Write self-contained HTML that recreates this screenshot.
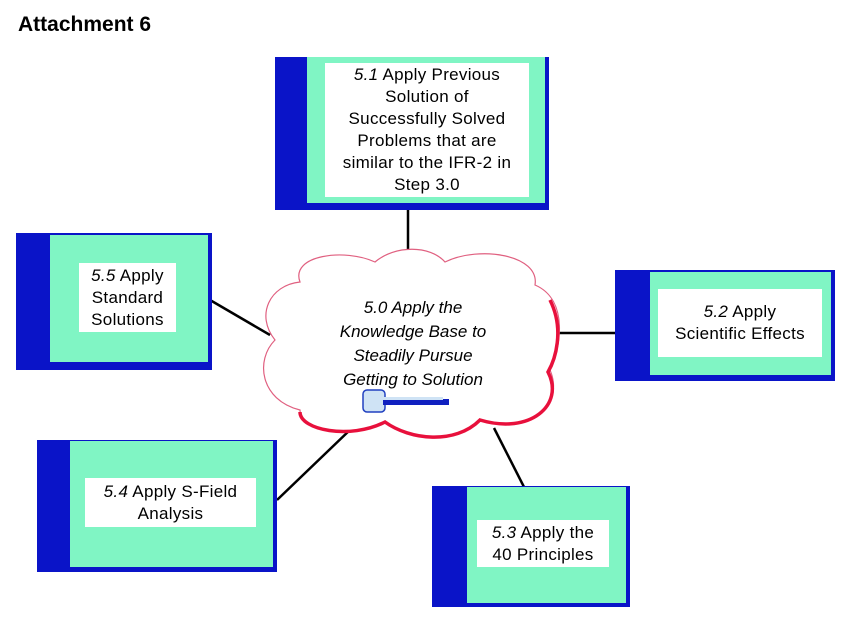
<!DOCTYPE html>
<html><head><meta charset="utf-8"><style>
body{margin:0;width:850px;height:623px;background:#fff;position:relative;overflow:hidden;font-family:"Liberation Sans",Arial,sans-serif}
.a{position:absolute}
.b{background:#0a14c8}
.g{background:#80f5c4}
.w{background:#fff;display:flex;align-items:center;justify-content:center;text-align:center;font-size:17px;line-height:22px;color:#000;letter-spacing:0.3px}
i{font-style:italic}
</style></head><body>
<div class="a" style="left:18px;top:13px;font-weight:bold;font-size:21px">Attachment 6</div>
<svg class="a" style="left:0;top:0" width="850" height="623">
<g stroke="#000" stroke-width="2.5">
<line x1="408" y1="208" x2="408" y2="260"/>
<line x1="210" y1="300" x2="270" y2="335"/>
<line x1="555" y1="333" x2="617" y2="333"/>
<line x1="277" y1="500" x2="352" y2="428"/>
<line x1="494" y1="428" x2="524" y2="487"/>
</g>
<path d="M300,282 C290,255 345,248 375,262 C395,245 430,245 445,262 C480,245 540,255 535,285 C570,300 560,350 550,370 C565,405 530,435 480,420 C455,445 410,440 385,422 C350,440 300,430 300,410 C260,400 255,360 275,340 C255,315 270,285 300,282 Z" fill="#fff" stroke="#e06080" stroke-width="1.2"/>
<path d="M550,300 C565,330 555,360 548,372 C565,405 530,435 480,420 C455,445 410,440 385,422 C350,440 300,430 300,412" fill="none" stroke="#e8103c" stroke-width="3.5"/>
<g>
<rect x="363" y="390" width="22" height="22" rx="4" fill="#cfe3f5" stroke="#2040c0" stroke-width="1.5"/>
<rect x="383" y="399" width="66" height="6" fill="#1020c0"/>
<rect x="383" y="397" width="60" height="3" fill="#cfe3f5"/>
</g>
</svg>
<div class="a" style="left:290px;top:296px;width:246px;text-align:center;font-style:italic;font-size:17px;line-height:24px">5.0 Apply the<br>Knowledge Base to<br>Steadily Pursue<br>Getting to Solution</div>

<div class="a b" style="left:275px;top:57px;width:274px;height:153px"></div>
<div class="a g" style="left:307px;top:57px;width:238px;height:146px"></div>
<div class="a w" style="left:325px;top:63px;width:204px;height:134px"><div><i>5.1</i> Apply Previous<br>Solution of<br>Successfully Solved<br>Problems that are<br>similar to the IFR-2 in<br>Step 3.0</div></div>

<div class="a b" style="left:16px;top:233px;width:196px;height:137px"></div>
<div class="a g" style="left:50px;top:235px;width:158px;height:127px"></div>
<div class="a w" style="left:79px;top:263px;width:97px;height:69px"><div><i>5.5</i> Apply<br>Standard<br>Solutions</div></div>

<div class="a b" style="left:615px;top:270px;width:220px;height:111px"></div>
<div class="a g" style="left:650px;top:272px;width:181px;height:103px"></div>
<div class="a w" style="left:658px;top:289px;width:164px;height:68px"><div><i>5.2</i> Apply<br>Scientific Effects</div></div>

<div class="a b" style="left:37px;top:440px;width:240px;height:132px"></div>
<div class="a g" style="left:70px;top:441px;width:203px;height:126px"></div>
<div class="a w" style="left:85px;top:478px;width:171px;height:49px"><div><i>5.4</i> Apply S-Field<br>Analysis</div></div>

<div class="a b" style="left:432px;top:486px;width:198px;height:121px"></div>
<div class="a g" style="left:467px;top:487px;width:159px;height:116px"></div>
<div class="a w" style="left:477px;top:520px;width:132px;height:47px"><div><i>5.3</i> Apply the<br>40 Principles</div></div>
</body></html>
